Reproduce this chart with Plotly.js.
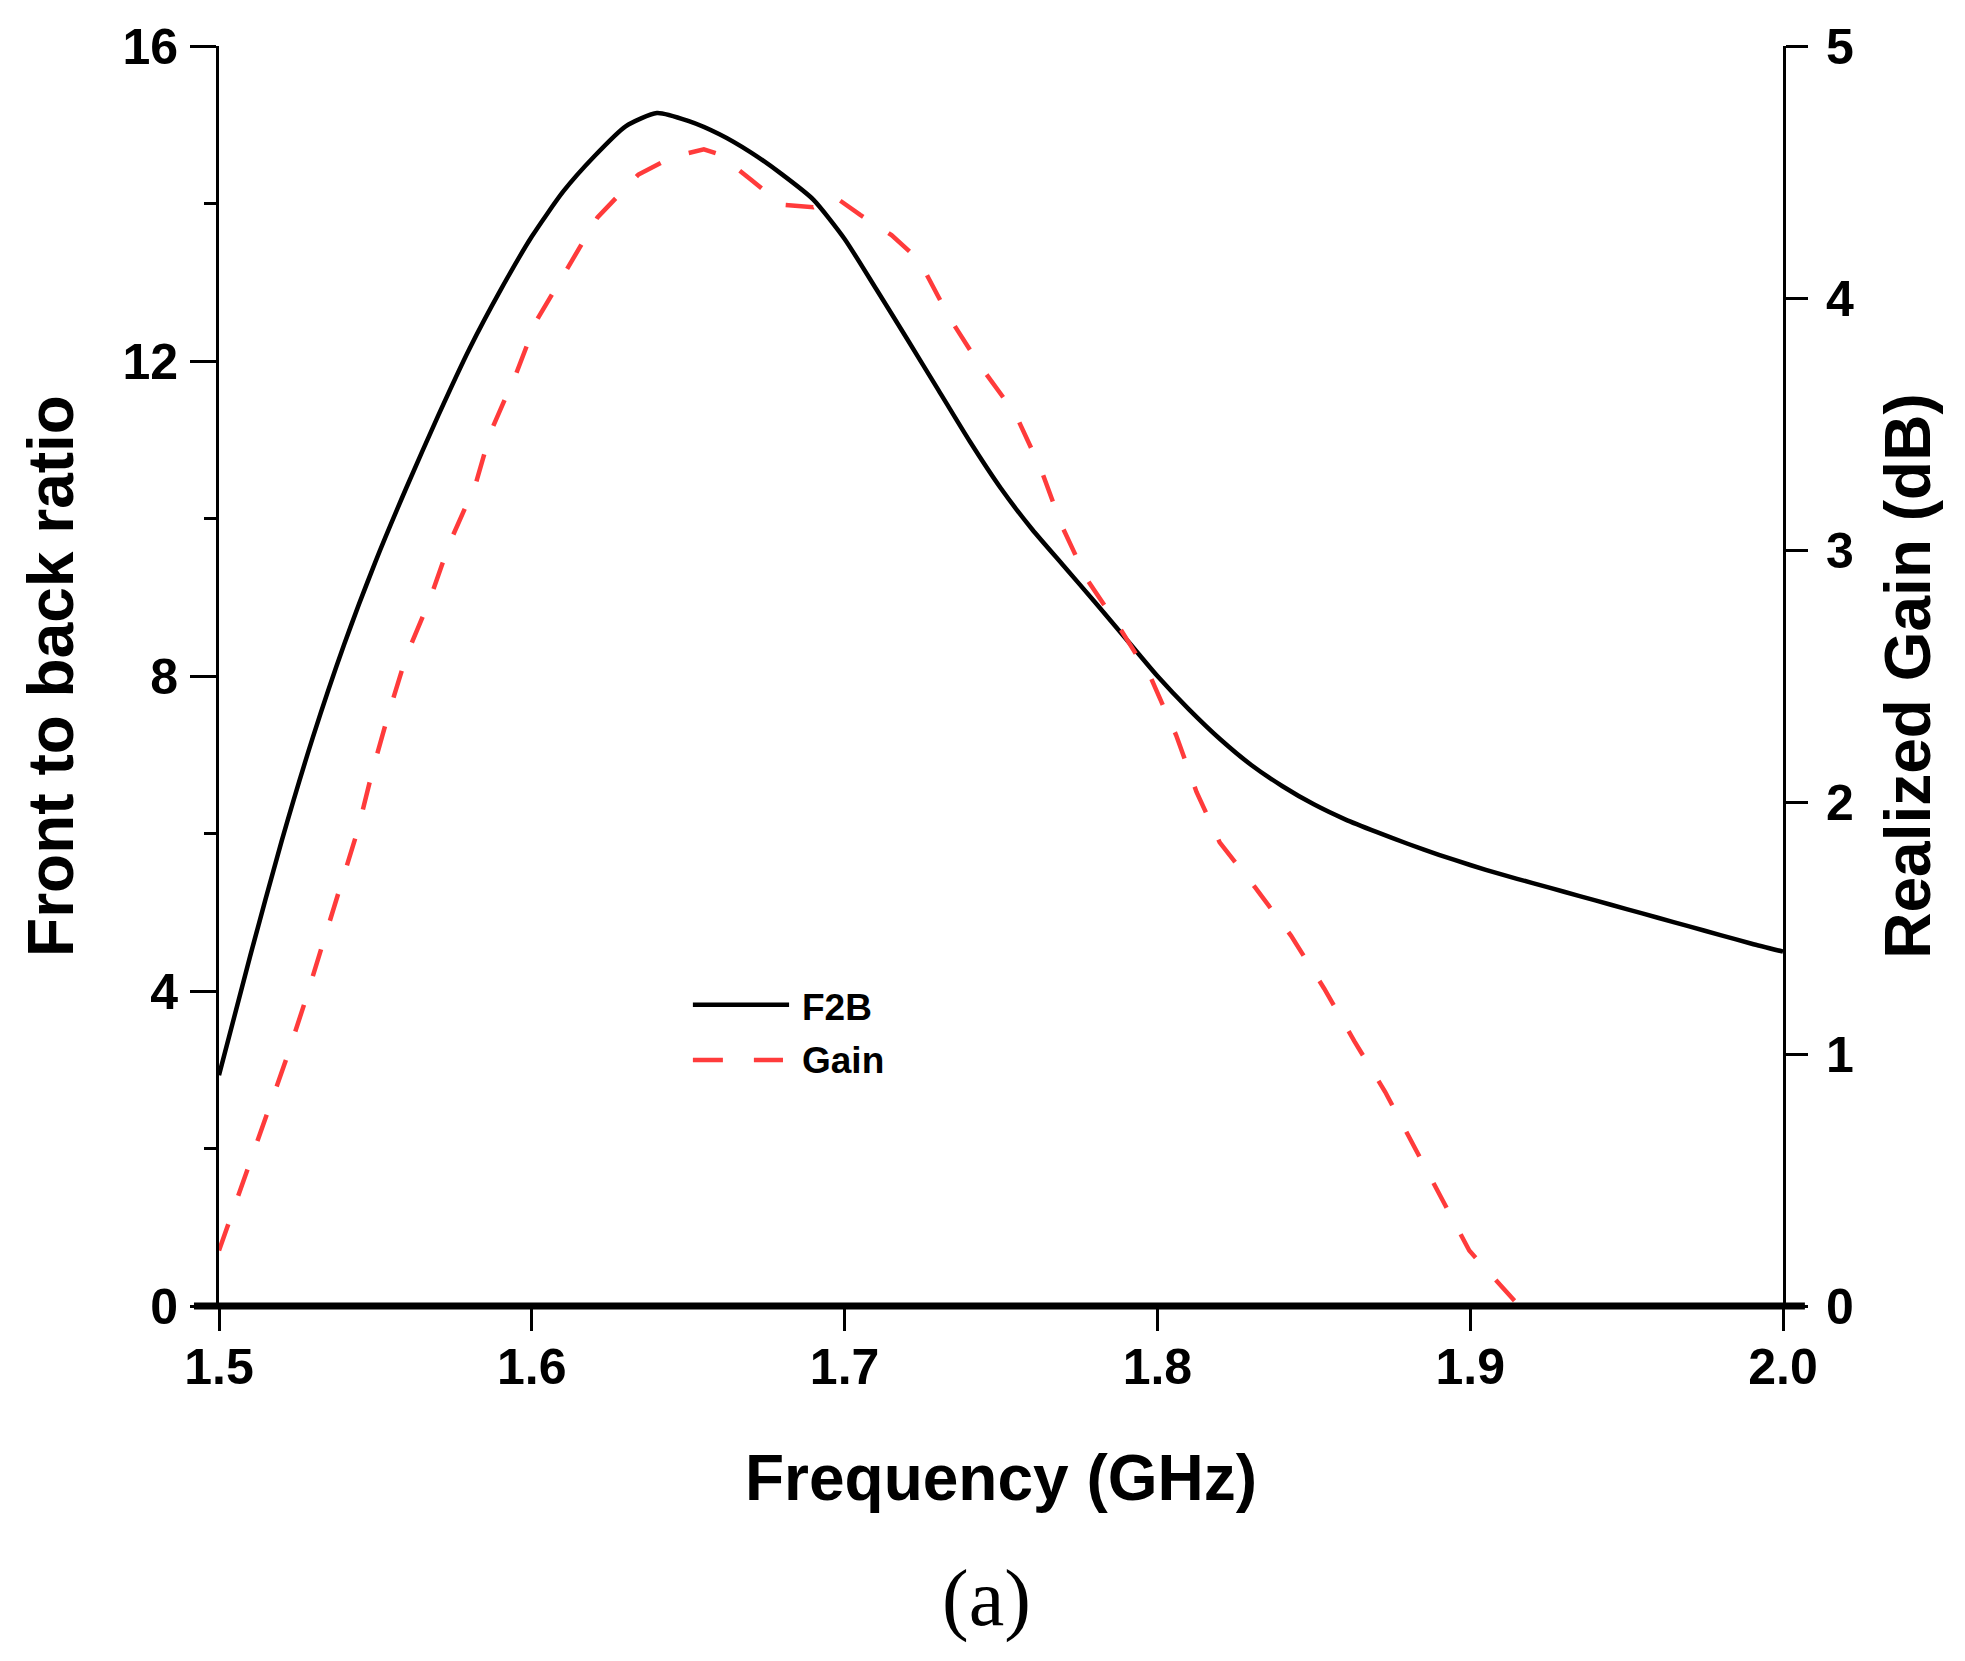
<!DOCTYPE html>
<html>
<head>
<meta charset="utf-8">
<script src="https://cdn.plot.ly/plotly-3.0.1.min.js"></script>
<style>
  html, body { margin: 0; padding: 0; background: #fff; }
  #graph { width: 1965px; height: 1661px; }
</style>
</head>
<body>
<div id="graph"></div>
<script>
// front to back ratio (left axis)
var f2bFreq = [1.50, 1.51, 1.52, 1.53, 1.54, 1.55, 1.56, 1.57, 1.58, 1.59,
               1.60, 1.61, 1.62, 1.63, 1.64, 1.65, 1.66, 1.67, 1.68, 1.69,
               1.70, 1.71, 1.72, 1.73, 1.74, 1.75, 1.76, 1.77, 1.78, 1.79,
               1.80, 1.81, 1.82, 1.83, 1.84, 1.85, 1.86, 1.87, 1.88, 1.89,
               1.90, 1.91, 1.92, 1.93, 1.94, 1.95, 1.96, 1.97, 1.98, 1.99, 2.00];
var f2b = [2.93, 4.45, 5.9, 7.22, 8.4, 9.45, 10.4, 11.3, 12.15, 12.9,
           13.58, 14.15, 14.6, 14.98, 15.15, 15.05, 14.88, 14.65, 14.37, 14.05,
           13.55, 12.92, 12.28, 11.63, 10.98, 10.38, 9.86, 9.4, 8.94, 8.47,
           8.0, 7.58, 7.2, 6.87, 6.6, 6.37, 6.18, 6.02, 5.87, 5.73,
           5.6, 5.48, 5.37, 5.26, 5.15, 5.04, 4.93, 4.82, 4.71, 4.6, 4.5];

// realized gain in dB (right axis)
var gainFreq = [1.500, 1.5085, 1.515, 1.5215, 1.5273, 1.533, 1.5387, 1.5444, 1.5492, 1.5542,
                1.5599, 1.5673, 1.5738, 1.582, 1.5869, 1.595, 1.6015, 1.6113, 1.621, 1.6341,
                1.645, 1.655, 1.66, 1.67, 1.68, 1.69, 1.697, 1.705, 1.715, 1.7238,
                1.7336, 1.7434, 1.7546, 1.7628, 1.7693, 1.7774, 1.788, 1.798, 1.806, 1.8125,
                1.8199, 1.8313, 1.8427, 1.8533, 1.863, 1.8728, 1.8818, 1.8908, 1.8997, 1.9157];
var gain = [0.22, 0.52, 0.75, 0.98, 1.20, 1.43, 1.67, 1.89, 2.13, 2.35,
            2.58, 2.80, 3.03, 3.26, 3.47, 3.70, 3.91, 4.12, 4.32, 4.49,
            4.56, 4.59, 4.57, 4.47, 4.37, 4.36, 4.40, 4.33, 4.25, 4.15,
            3.92, 3.73, 3.54, 3.32, 3.10, 2.885, 2.69, 2.49, 2.265, 2.04,
            1.84, 1.66, 1.47, 1.26, 1.05, 0.85, 0.64, 0.43, 0.22, 0.0];

var xTicks = [1.5, 1.6, 1.7, 1.8, 1.9, 2.0];
var seriesNames = ['F2B', 'Gain'];
var seriesColors = ['#000000', '#ff3b3b'];

var FONT = 'Arial, "Liberation Sans", sans-serif';

var traces = [
    {
        x: f2bFreq, y: f2b, name: seriesNames[0], type: 'scatter', mode: 'lines',
        line: { color: seriesColors[0], width: 4.5, shape: 'spline', smoothing: 0.6 },
        yaxis: 'y'
    },
    {
        x: gainFreq, y: gain, name: seriesNames[1], type: 'scatter', mode: 'lines',
        line: { color: seriesColors[1], width: 4.5, dash: '28px,30px' },
        yaxis: 'y2'
    }
];

// hand-drawn legend (longer line samples than plotly's own)
var legendShapes = [
    { type: 'line', xref: 'paper', yref: 'paper', x0: 0.303, x1: 0.3645, y0: 0.239, y1: 0.239,
      line: { color: seriesColors[0], width: 4.5 } },
    { type: 'line', xref: 'paper', yref: 'paper', x0: 0.303, x1: 0.3606, y0: 0.1952, y1: 0.1952,
      line: { color: seriesColors[1], width: 4.5, dash: '30px,31px' } }
];
var legendLabels = seriesNames.map(function (name, i) {
    return {
        text: name, xref: 'paper', yref: 'paper', x: 0.3715, y: [0.237, 0.1952][i],
        xanchor: 'left', yanchor: 'middle', showarrow: false,
        font: { family: FONT, size: 37, weight: 'bold', color: '#000' }
    };
});

// bottom axis line runs a little past both vertical axes
var baseLine = { type: 'line', xref: 'paper', yref: 'paper', x0: -0.016, x1: 1.014, y0: 0, y1: 0,
                 layer: 'above', line: { color: '#000', width: 7 } };

var layout = {
    width: 1965,
    height: 1661,
    margin: { l: 219, r: 182, t: 46, b: 355 },
    paper_bgcolor: '#ffffff',
    plot_bgcolor: '#ffffff',
    font: { family: FONT, color: '#000000' },
    showlegend: false,
    xaxis: {
        range: [1.5, 2.0],
        tickvals: xTicks,
        ticktext: xTicks.map(function (v) { return v.toFixed(1); }),
        ticks: 'outside', ticklen: 24, tickwidth: 3, tickcolor: '#000',
        showline: false,
        showgrid: false, zeroline: false, mirror: false,
        tickfont: { family: FONT, size: 50, weight: 'bold' },
        ticklabelstandoff: -7,
        title: { text: 'Frequency (GHz)', font: { family: FONT, size: 64, weight: 'bold' }, standoff: 61 }
    },
    yaxis: {
        range: [0, 16],
        dtick: 4,
        ticks: 'outside', ticklen: 26, tickwidth: 3, tickcolor: '#000',
        minor: { dtick: 2, ticks: 'outside', ticklen: 12, tickwidth: 3, tickcolor: '#000' },
        showline: true, linewidth: 3, linecolor: '#000',
        showgrid: false, zeroline: false,
        tickfont: { family: FONT, size: 50, weight: 'bold' },
        ticklabelstandoff: 2,
        title: { text: 'Front to back ratio', font: { family: FONT, size: 64, weight: 'bold' }, standoff: 28 }
    },
    yaxis2: {
        range: [0, 5],
        dtick: 1,
        overlaying: 'y', side: 'right',
        ticks: 'outside', ticklen: 22, tickwidth: 3, tickcolor: '#000',
        showline: true, linewidth: 3, linecolor: '#000',
        showgrid: false, zeroline: false,
        tickfont: { family: FONT, size: 50, weight: 'bold' },
        ticklabelstandoff: 8,
        title: { text: 'Realized Gain (dB)', font: { family: FONT, size: 64, weight: 'bold' }, standoff: 33 }
    },
    shapes: legendShapes.concat([baseLine]),
    annotations: legendLabels.concat([
        {
            text: '(a)', xref: 'paper', yref: 'paper', x: 0.491, y: -0.232,
            xanchor: 'center', yanchor: 'middle', showarrow: false,
            font: { family: '"Liberation Serif", "Times New Roman", serif', size: 80, color: '#000' }
        }
    ])
};

Plotly.newPlot('graph', traces, layout, { staticPlot: true, displayModeBar: false });
</script>
</body>
</html>
